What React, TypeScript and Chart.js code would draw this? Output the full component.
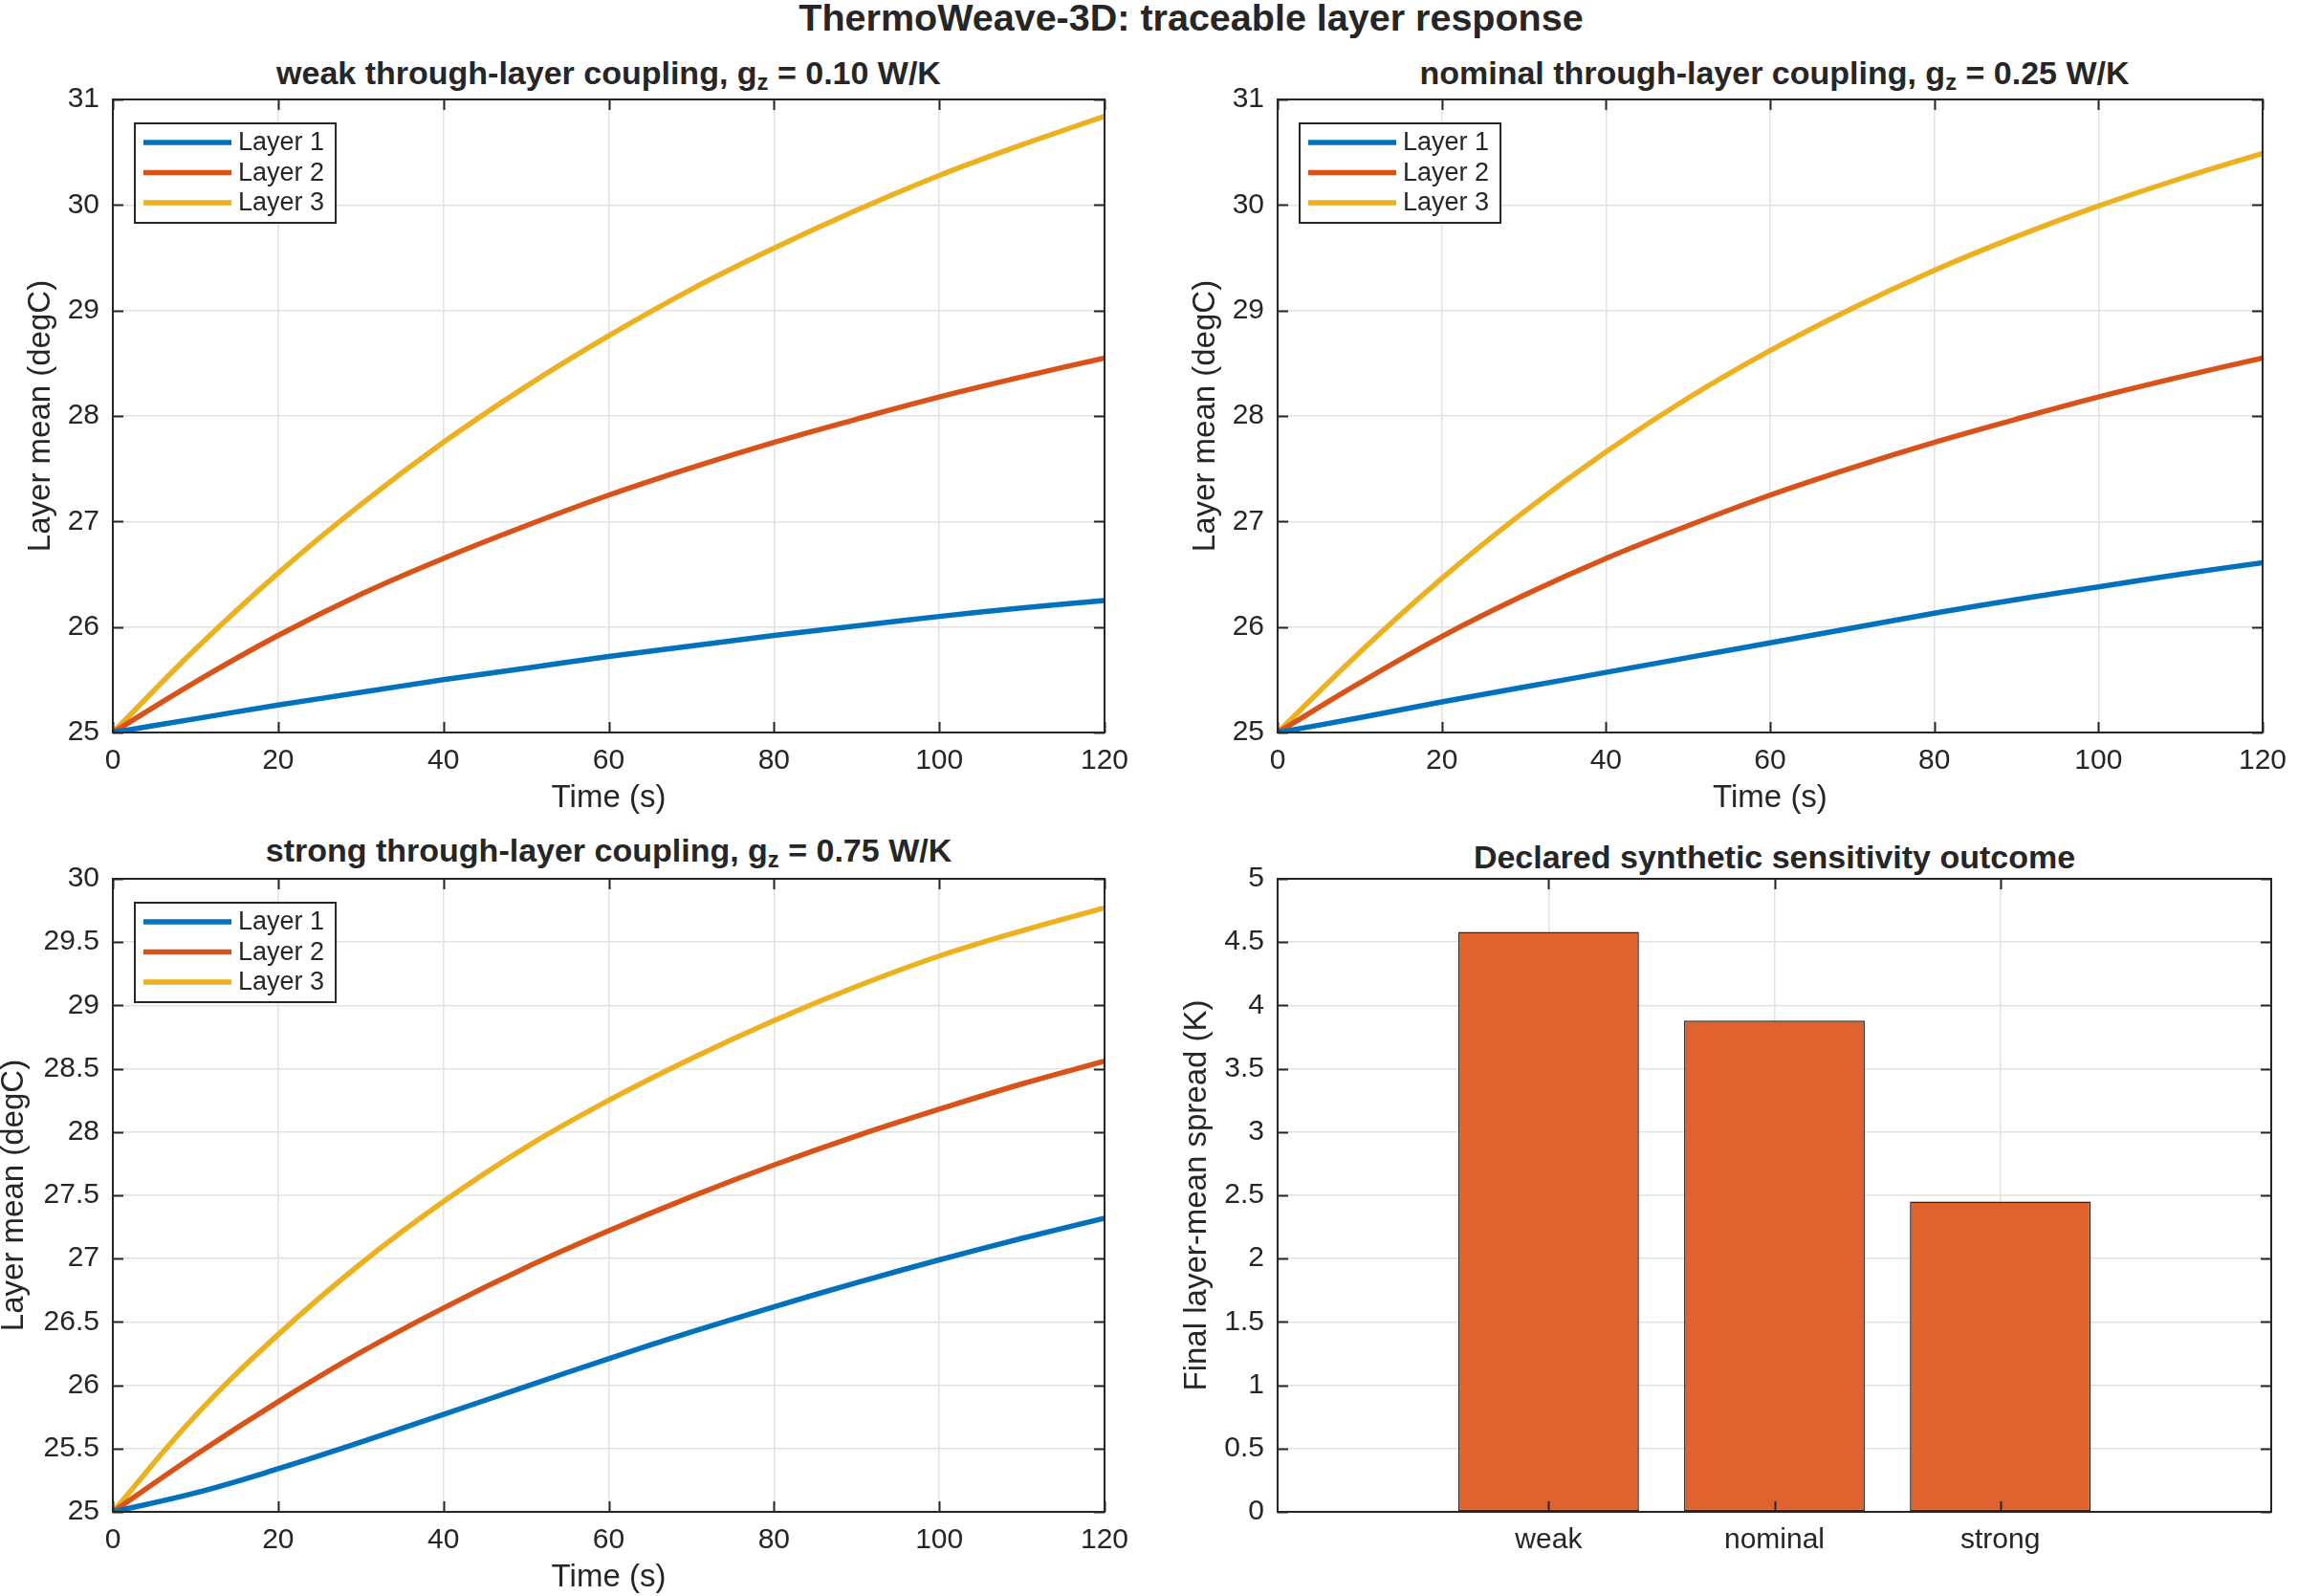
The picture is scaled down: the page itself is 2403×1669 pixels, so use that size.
import React, { useEffect, useRef } from "react";
import { Chart, registerables } from "chart.js";

Chart.register(...registerables);

// ---------------- data ----------------
const timeS = [0, 10, 20, 30, 40, 50, 60, 70, 80, 90, 100, 110, 120];
const layerNames = ["Layer 1", "Layer 2", "Layer 3"];

const weakL1 = [25, 25.13, 25.26, 25.38, 25.5, 25.61, 25.72, 25.82, 25.92, 26.01, 26.1, 26.18, 26.25];
const weakL2 = [25, 25.48, 25.92, 26.31, 26.65, 26.96, 27.25, 27.51, 27.75, 27.97, 28.18, 28.37, 28.55];
const weakL3 = [25, 25.79, 26.51, 27.16, 27.75, 28.28, 28.76, 29.2, 29.59, 29.95, 30.28, 30.57, 30.84];

const nominalL1 = [25, 25.14, 25.29, 25.43, 25.57, 25.71, 25.85, 25.99, 26.13, 26.26, 26.38, 26.5, 26.61];
const nominalL2 = [25, 25.47, 25.91, 26.3, 26.65, 26.96, 27.25, 27.51, 27.75, 27.97, 28.18, 28.37, 28.55];
const nominalL3 = [25, 25.76, 26.46, 27.09, 27.66, 28.17, 28.62, 29.02, 29.38, 29.7, 29.99, 30.25, 30.49];

const strongL1 = [25, 25.15, 25.34, 25.55, 25.77, 25.99, 26.21, 26.42, 26.62, 26.81, 26.99, 27.16, 27.32];
const strongL2 = [25, 25.45, 25.87, 26.26, 26.61, 26.93, 27.22, 27.49, 27.74, 27.97, 28.18, 28.38, 28.56];
const strongL3 = [25, 25.76, 26.4, 26.96, 27.45, 27.88, 28.25, 28.58, 28.88, 29.15, 29.39, 29.59, 29.77];

const couplingCategories = ["weak", "nominal", "strong"];
const finalSpreadK = [4.58, 3.88, 2.45];

const xTicksTime = { min: 0, max: 120, step: 20 };
const yTicksWeak = { min: 25, max: 31, step: 1 };
const yTicksNominal = { min: 25, max: 31, step: 1 };
const yTicksStrong = { min: 25, max: 30, step: 0.5 };
const yTicksSpread = { min: 0, max: 5, step: 0.5 };

// ---------------- styles ----------------
const FONT = '"Liberation Sans", Arial, Helvetica, sans-serif';
const TXT = "#262626";
const GRID = "#e2e2e2";
const LINE_COLORS = ["#0072BD", "#D95319", "#EDB120"];
const BAR_COLOR = "rgb(223, 98, 45)";

Chart.defaults.font.family = FONT;
Chart.defaults.color = TXT;

const fmtTick = (v: any) => String(Math.round(Number(v) * 100) / 100);

const matlabPlugin = {
  id: "matlabAxes",
  afterDatasetsDraw(chart: any, _args: any, opts: any) {
    const { ctx, chartArea: a, scales } = chart;
    ctx.save();
    ctx.strokeStyle = TXT;
    ctx.lineWidth = 2;
    ctx.strokeRect(a.left, a.top, a.right - a.left, a.bottom - a.top);
    const L = 11;
    ctx.beginPath();
    scales.x.ticks.forEach((t: any) => {
      const px = Math.round(scales.x.getPixelForValue(t.value)) + 0.5;
      ctx.moveTo(px, a.bottom);
      ctx.lineTo(px, a.bottom - L);
      ctx.moveTo(px, a.top);
      ctx.lineTo(px, a.top + L);
    });
    scales.y.ticks.forEach((t: any) => {
      const py = Math.round(scales.y.getPixelForValue(t.value)) + 0.5;
      ctx.moveTo(a.left, py);
      ctx.lineTo(a.left + L, py);
      ctx.moveTo(a.right, py);
      ctx.lineTo(a.right - L, py);
    });
    ctx.stroke();

    if (opts && opts.legend) {
      const ds = chart.data.datasets;
      ctx.font = `27px ${FONT}`;
      let tw = 0;
      ds.forEach((d: any) => {
        tw = Math.max(tw, ctx.measureText(d.label).width);
      });
      const x0 = a.left + 23;
      const y0 = a.top + 25;
      const rowH = 31.5;
      const w = 9 + 92 + 7 + tw + 12;
      const h = 20 + rowH * (ds.length - 1) + 21;
      ctx.fillStyle = "#ffffff";
      ctx.fillRect(x0, y0, w, h);
      ctx.strokeStyle = TXT;
      ctx.lineWidth = 2;
      ctx.strokeRect(x0, y0, w, h);
      ds.forEach((d: any, i: number) => {
        const cy = y0 + 20 + rowH * i;
        ctx.strokeStyle = d.borderColor;
        ctx.lineWidth = 5.5;
        ctx.beginPath();
        ctx.moveTo(x0 + 9, cy);
        ctx.lineTo(x0 + 101, cy);
        ctx.stroke();
        ctx.fillStyle = TXT;
        ctx.textBaseline = "middle";
        ctx.textAlign = "left";
        ctx.fillText(d.label, x0 + 108, cy + 1);
      });
    }
    ctx.restore();
  },
};

type Geo = {
  left: number;
  top: number;
  width: number;
  height: number;
  padTop: number;
  padRight: number;
  yAxisW: number;
  xAxisH: number;
  xTitlePadBottom: number;
  yTitlePad: number;
};

function gridOpts() {
  return { color: GRID, lineWidth: 1.5, drawTicks: false };
}

function lineConfig(series: number[][], yT: any, yLabel: string, g: Geo) {
  return {
    type: "line",
    data: {
      datasets: series.map((vals, i) => ({
        label: layerNames[i],
        data: timeS.map((t, k) => ({ x: t, y: vals[k] })),
        borderColor: LINE_COLORS[i],
        backgroundColor: LINE_COLORS[i],
        borderWidth: 5.5,
        pointRadius: 0,
        tension: 0.4,
        fill: false,
      })),
    },
    options: {
      responsive: false,
      animation: false,
      devicePixelRatio: 1,
      layout: { padding: { top: g.padTop, right: g.padRight, bottom: 0, left: 0 } },
      plugins: {
        legend: { display: false },
        tooltip: { enabled: false },
        title: { display: false },
        matlabAxes: { legend: true },
      },
      scales: {
        x: {
          type: "linear",
          min: xTicksTime.min,
          max: xTicksTime.max,
          ticks: {
            stepSize: xTicksTime.step,
            font: { size: 30 },
            color: TXT,
            padding: 12,
            maxRotation: 0,
            autoSkip: false,
            callback: fmtTick,
          },
          grid: gridOpts(),
          border: { display: false },
          title: {
            display: true,
            text: "Time (s)",
            font: { size: 33 },
            color: TXT,
            padding: { top: 0, bottom: g.xTitlePadBottom },
          },
          afterFit: (s: any) => {
            s.height = g.xAxisH;
          },
        },
        y: {
          type: "linear",
          min: yT.min,
          max: yT.max,
          ticks: {
            stepSize: yT.step,
            font: { size: 30 },
            color: TXT,
            padding: 14,
            autoSkip: false,
            callback: fmtTick,
          },
          grid: gridOpts(),
          border: { display: false },
          title: {
            display: true,
            text: yLabel,
            font: { size: 33 },
            color: TXT,
            padding: { top: g.yTitlePad, bottom: 0 },
          },
          afterFit: (s: any) => {
            s.width = g.yAxisW;
          },
        },
      },
    },
    plugins: [matlabPlugin],
  };
}

function barConfig(g: Geo) {
  return {
    type: "bar",
    data: {
      datasets: [
        {
          label: "Final layer-mean spread",
          data: couplingCategories.map((_c, i) => ({ x: i + 1, y: finalSpreadK[i] })),
          backgroundColor: BAR_COLOR,
          borderColor: TXT,
          borderWidth: 1.5,
          borderSkipped: false,
          barPercentage: 0.8,
          categoryPercentage: 1,
        },
      ],
    },
    options: {
      responsive: false,
      animation: false,
      devicePixelRatio: 1,
      layout: { padding: { top: g.padTop, right: g.padRight, bottom: 0, left: 0 } },
      plugins: {
        legend: { display: false },
        tooltip: { enabled: false },
        title: { display: false },
        matlabAxes: { legend: false },
      },
      scales: {
        x: {
          type: "linear",
          min: -0.2,
          max: 4.2,
          offset: false,
          afterBuildTicks: (s: any) => {
            s.ticks = couplingCategories.map((_c, i) => ({ value: i + 1 }));
          },
          ticks: {
            font: { size: 30 },
            color: TXT,
            padding: 12,
            maxRotation: 0,
            autoSkip: false,
            callback: (v: any) => couplingCategories[Math.round(v) - 1] ?? "",
          },
          grid: { ...gridOpts(), offset: false },
          border: { display: false },
          afterFit: (s: any) => {
            s.height = g.xAxisH;
          },
        },
        y: {
          type: "linear",
          min: yTicksSpread.min,
          max: yTicksSpread.max,
          ticks: {
            stepSize: yTicksSpread.step,
            font: { size: 30 },
            color: TXT,
            padding: 14,
            autoSkip: false,
            callback: fmtTick,
          },
          grid: gridOpts(),
          border: { display: false },
          title: {
            display: true,
            text: "Final layer-mean spread (K)",
            font: { size: 33 },
            color: TXT,
            padding: { top: g.yTitlePad, bottom: 0 },
          },
          afterFit: (s: any) => {
            s.width = g.yAxisW;
          },
        },
      },
    },
    plugins: [matlabPlugin],
  };
}

function ChartCanvas({ config, g }: { config: any; g: Geo }) {
  const ref = useRef<HTMLCanvasElement | null>(null);
  useEffect(() => {
    if (!ref.current) return;
    const chart = new Chart(ref.current, config);
    return () => chart.destroy();
  }, []);
  return (
    <canvas
      ref={ref}
      width={g.width}
      height={g.height}
      style={{ position: "absolute", left: g.left, top: g.top, width: g.width, height: g.height }}
    />
  );
}

const geoTL: Geo = { left: 0, top: 60, width: 1200, height: 800, padTop: 44, padRight: 45, yAxisW: 118, xAxisH: 94, xTitlePadBottom: 5, yTitlePad: 23 };
const geoTR: Geo = { left: 1218, top: 60, width: 1185, height: 800, padTop: 44, padRight: 28, yAxisW: 118, xAxisH: 94, xTitlePadBottom: 5, yTitlePad: 23 };
const geoBL: Geo = { left: 0, top: 869, width: 1200, height: 800, padTop: 50, padRight: 45, yAxisW: 118, xAxisH: 88, xTitlePadBottom: -1, yTitlePad: -5 };
const geoBR: Geo = { left: 1218, top: 869, width: 1185, height: 800, padTop: 50, padRight: 28, yAxisW: 118, xAxisH: 88, xTitlePadBottom: -1, yTitlePad: 14 };

function Title({ x, y, size, children }: { x: number; y: number; size: number; children: any }) {
  return (
    <div
      style={{
        position: "absolute",
        left: x,
        top: y,
        transform: "translateX(-50%)",
        whiteSpace: "nowrap",
        fontFamily: FONT,
        fontWeight: "bold",
        fontSize: size,
        lineHeight: `${size}px`,
        color: TXT,
      }}
    >
      {children}
    </div>
  );
}

const subStyle = { fontSize: "0.7em", verticalAlign: "-0.25em", lineHeight: 0 };

export default function App() {
  return (
    <div
      style={{
        position: "fixed",
        left: 0,
        top: 0,
        width: 2403,
        height: 1669,
        background: "#ffffff",
        overflow: "hidden",
      }}
    >
      <Title x={1245.5} y={-1} size={39.5}>
        ThermoWeave-3D: traceable layer response
      </Title>
      <Title x={636.5} y={59} size={34}>
        weak through-layer coupling, g<span style={subStyle}>z</span> = 0.10 W/K
      </Title>
      <Title x={1855.5} y={59} size={34}>
        nominal through-layer coupling, g<span style={subStyle}>z</span> = 0.25 W/K
      </Title>
      <Title x={636.5} y={872} size={34}>
        strong through-layer coupling, g<span style={subStyle}>z</span> = 0.75 W/K
      </Title>
      <Title x={1855.5} y={879} size={34}>
        Declared synthetic sensitivity outcome
      </Title>
      <ChartCanvas g={geoTL} config={lineConfig([weakL1, weakL2, weakL3], yTicksWeak, "Layer mean (degC)", geoTL)} />
      <ChartCanvas g={geoTR} config={lineConfig([nominalL1, nominalL2, nominalL3], yTicksNominal, "Layer mean (degC)", geoTR)} />
      <ChartCanvas g={geoBL} config={lineConfig([strongL1, strongL2, strongL3], yTicksStrong, "Layer mean (degC)", geoBL)} />
      <ChartCanvas g={geoBR} config={barConfig(geoBR)} />
    </div>
  );
}
